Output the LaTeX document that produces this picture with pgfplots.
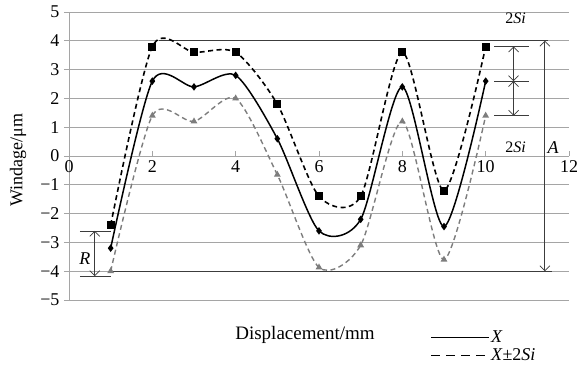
\documentclass[border=0pt]{standalone}
\usepackage{pgfplots}
\pgfplotsset{compat=1.18}
\usepackage{fontspec}
\setmainfont{Liberation Serif}
\usetikzlibrary{arrows.meta}
\definecolor{gridc}{RGB}{165,165,165}
\definecolor{darkl}{RGB}{60,60,60}
\definecolor{lowc}{RGB}{125,125,125}
\begin{document}
\begin{tikzpicture}[x=1pt,y=1pt]
\path[use as bounding box] (-69pt,-68pt) rectangle (519pt,300pt);
\begin{axis}[
  at={(0pt,0pt)}, anchor=south west,
  scale only axis, width=500pt, height=288pt,
  xmin=0, xmax=12, ymin=-5, ymax=5,
  axis x line=middle, axis y line=left,
  axis line style={gridc, line width=0.8pt, -},
  hide obscured x ticks=false, hide obscured y ticks=false,
  xtick={0,2,...,12}, ytick={-5,-4,...,5},
  yticklabels={−5,−4,−3,−2,−1,0,1,2,3,4,5},
  xticklabel style={yshift=-1pt},
  yticklabel style={xshift=-1pt},
  ymajorgrids, grid style={gridc, line width=0.8pt},
  major tick length=5pt,
  x tick style={gridc, line width=0.6pt},
  y tick style={gridc, line width=0.8pt},
  xtick align=inside, ytick align=outside,
  tick label style={font=\fontsize{18}{18}\selectfont},
  /pgf/number format/assume math mode=true,
  clip=false,
  legend style={at={(axis description cs:0.722,-0.102)}, anchor=north west,
    draw=none, fill=none, inner sep=0pt, row sep=2pt,
    font=\fontsize{18}{18}\selectfont,
    nodes={inner sep=1pt, text height=12pt, text depth=2pt}},
  legend cell align=left,
  legend image code/.code={\draw[#1] (0pt,0pt) -- (58pt,0pt);},
]
% annotation lines
\draw[darkl, line width=1.1pt] (axis cs:2.15,4) -- (axis cs:11.5,4);
\draw[darkl, line width=1.1pt] (axis cs:1.05,-4) -- (axis cs:11.6,-4);
\draw[darkl, line width=0.7pt, {Straight Barb[length=5pt]}-{Straight Barb[length=5pt]}] (axis cs:11.42,4) -- (axis cs:11.42,-4);
\node[font=\fontsize{18}{18}\selectfont\itshape] at (axis cs:11.62,0.28) {A};
% R
\draw[darkl, line width=0.7pt] (axis cs:0.26,-2.6) -- (axis cs:1.0,-2.6);
\draw[darkl, line width=0.7pt] (axis cs:0.26,-4.17) -- (axis cs:1.0,-4.17);
\draw[darkl, line width=0.7pt, {Straight Barb[length=5pt]}-{Straight Barb[length=5pt]}] (axis cs:0.62,-2.6) -- (axis cs:0.62,-4.17);
\node[font=\fontsize{18}{18}\selectfont\itshape] at (axis cs:0.38,-3.55) {R};
% right 2Si bars
\draw[darkl, line width=0.8pt] (axis cs:10.2,3.8) -- (axis cs:11.03,3.8);
\draw[darkl, line width=0.8pt] (axis cs:10.2,2.6) -- (axis cs:11.03,2.6);
\draw[darkl, line width=0.8pt] (axis cs:10.2,1.4) -- (axis cs:11.03,1.4);
\draw[darkl, line width=0.7pt, {Straight Barb[length=5pt]}-{Straight Barb[length=5pt]}] (axis cs:10.67,3.8) -- (axis cs:10.67,2.6);
\draw[darkl, line width=0.7pt, {Straight Barb[length=5pt]}-{Straight Barb[length=5pt]}] (axis cs:10.67,2.6) -- (axis cs:10.67,1.4);
\node[font=\fontsize{16}{16}\selectfont] at (axis cs:10.72,4.78) {2\textit{Si}};
\node[font=\fontsize{16}{16}\selectfont] at (axis cs:10.72,0.32) {2\textit{Si}};
% data
\addplot[lowc, line width=1.4pt, dash pattern=on 5pt off 3.5pt, smooth, tension=0.45,
  mark=triangle*, mark size=2.6pt, mark options={solid, fill=lowc, draw=lowc}, forget plot]
  coordinates {(1,-4.0) (2,1.4) (3,1.2) (4,2.0) (5,-0.65) (6,-3.87) (7,-3.1) (8,1.2) (9,-3.6) (10,1.4)};
\addplot[black, line width=1.6pt, dash pattern=on 5pt off 3.5pt, smooth, tension=0.45,
  mark=square*, mark size=3.2pt, mark options={solid, fill=black}, forget plot]
  coordinates {(1,-2.4) (2,3.8) (3,3.6) (4,3.6) (5,1.8) (6,-1.4) (7,-1.4) (8,3.6) (9,-1.2) (10,3.8)};
\addplot[black, line width=1.5pt, smooth, tension=0.45,
  mark=diamond*, mark size=2.6pt, mark options={solid, fill=black}, forget plot]
  coordinates {(1,-3.2) (2,2.6) (3,2.4) (4,2.8) (5,0.6) (6,-2.6) (7,-2.2) (8,2.4) (9,-2.45) (10,2.6)};
\addlegendimage{black, line width=1.5pt}
\addlegendentry{\textit{X}}
\addlegendimage{black, line width=1.8pt, dash pattern=on 9pt off 6pt}
\addlegendentry{\textit{X}±2\textit{Si}}
\end{axis}
\node[font=\fontsize{19}{19}\selectfont] at (236pt,-35pt) {Displacement/mm};
\node[font=\fontsize{18}{18}\selectfont, rotate=90] at (-51pt,140pt) {Windage/μm};
\end{tikzpicture}
\end{document}
